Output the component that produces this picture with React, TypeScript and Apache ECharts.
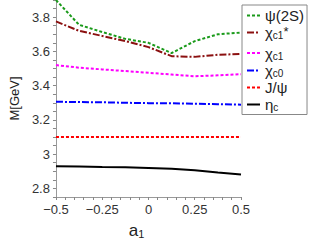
import React, { useEffect, useRef } from "react";
import * as echarts from "echarts";

const aValues = [-0.5, -0.375, -0.25, -0.125, 0, 0.125, 0.25, 0.375, 0.5];
const psi2S = [3.9, 3.755, 3.713, 3.673, 3.65, 3.59, 3.66, 3.7, 3.71];
const chic1Star = [3.775, 3.72, 3.69, 3.66, 3.625, 3.572, 3.568, 3.58, 3.585];
const chic1 = [3.52, 3.505, 3.495, 3.485, 3.475, 3.465, 3.455, 3.46, 3.467];
const chic0 = [3.306, 3.304, 3.303, 3.3, 3.298, 3.297, 3.294, 3.292, 3.289];
const jpsi = [3.1, 3.1, 3.1, 3.1, 3.1, 3.1, 3.1, 3.1, 3.1];
const etac = [2.93, 2.928, 2.925, 2.923, 2.92, 2.915, 2.906, 2.893, 2.881];

const yTickLabels = [2.8, 3, 3.2, 3.4, 3.6, 3.8];
const xTickLabels = [-0.5, -0.25, 0, 0.25, 0.5];

const FONT = "Liberation Sans, Arial, sans-serif";

const seriesDefs = [
  { key: "psi2S", label: "{m|ψ(2S)}", data: psi2S, color: "#1a9a1a", type: [3, 2] as any },
  { key: "chic1Star", label: "{m|χ}{s|c1}{p|*}", data: chic1Star, color: "#8b1010", type: [7, 2, 2, 2] as any },
  { key: "chic1", label: "{m|χ}{s|c1}", data: chic1, color: "#ff00ff", type: [3, 2] as any },
  { key: "chic0", label: "{m|χ}{s|c0}", data: chic0, color: "#0000ff", type: [7, 2, 2, 2] as any },
  { key: "jpsi", label: "{m|J/ψ}", data: jpsi, color: "#ff0000", type: [3, 2] as any },
  { key: "etac", label: "{m|η}{s|c}", data: etac, color: "#000000", type: "solid" as any },
];

export default function App() {
  const ref = useRef<HTMLDivElement>(null);
  useEffect(() => {
    if (!ref.current) return;
    const chart = echarts.init(ref.current, null, { renderer: "svg" });
    const labelMap: Record<string, string> = {};
    seriesDefs.forEach((s) => (labelMap[s.key] = s.label));
    chart.setOption({
      animation: false,
      textStyle: { fontFamily: FONT },
      axisPointer: { show: false },
      tooltip: { show: false },
      grid: { left: 42, right: 75, top: 0, bottom: 45, show: false },
      legend: {
        orient: "vertical",
        left: 242,
        top: 5,
        padding: [3, 3, 2, 4],
        itemWidth: 13,
        itemHeight: 14,
        itemGap: 1.5,
        borderColor: "#888",
        borderWidth: 1,
        itemStyle: { opacity: 0 },
        data: seriesDefs.map((s) => s.key),
        formatter: (n: string) => labelMap[n],
        textStyle: {
          fontFamily: FONT,
          fontSize: 15,
          color: "#222",
          rich: {
            m: { fontSize: 15, fontFamily: FONT, color: "#222", lineHeight: 16 },
            s: { fontSize: 10, fontFamily: FONT, color: "#222", verticalAlign: "bottom", lineHeight: 12, padding: [6, 0, 0, 0] },
            p: { fontSize: 13, fontFamily: FONT, color: "#222", verticalAlign: "top", lineHeight: 12, padding: [0, 0, 6, 0] },
          },
        },
      },
      xAxis: {
        type: "value",
        min: -0.5,
        max: 0.5,
        interval: 0.05,
        name: "{a|a}{s|1}",
        nameLocation: "middle",
        nameGap: 25,
        nameTextStyle: {
          padding: [0, 24, 0, 0],
          rich: {
            a: { fontSize: 17, fontFamily: FONT, color: "#222" },
            s: { fontSize: 11, fontFamily: FONT, color: "#222", verticalAlign: "bottom", padding: [6, 0, 0, 0] },
          },
        },
        axisPointer: { show: false },
        axisLine: { onZero: false, lineStyle: { color: "#999", width: 1 } },
        axisTick: { show: true, length: 3, lineStyle: { color: "#888" } },
        splitLine: { show: false, lineStyle: { color: "#00ffff" } },
        minorSplitLine: { show: false, lineStyle: { color: "#ff8800" } },
        splitArea: { show: false },
        axisLabel: {
          fontSize: 13,
          color: "#333",
          margin: 6,
          fontFamily: FONT,
          customValues: xTickLabels,
          formatter: (v: number) => String(v).replace("-", "\u2212"),
        },
      },
      yAxis: {
        type: "value",
        min: 2.75,
        max: 3.9,
        interval: 0.05,
        position: "left",
        name: "M[GeV]",
        nameLocation: "middle",
        nameGap: 33,
        nameTextStyle: { fontSize: 13, color: "#222", fontFamily: FONT },
        axisPointer: { show: false },
        axisLine: { show: true, onZero: false, lineStyle: { color: "#999", width: 1 } },
        axisTick: { show: true, length: 3, lineStyle: { color: "#888" } },
        splitLine: { show: false },
        minorSplitLine: { show: false },
        splitArea: { show: false },
        axisLabel: {
          fontSize: 13,
          color: "#333",
          margin: 6,
          fontFamily: FONT,
          customValues: yTickLabels,
          formatter: (v: number) => String(Math.round(v * 10) / 10),
        },
      },
      series: seriesDefs.map((s) => ({
        name: s.key,
        type: "line",
        symbol: "none",
        data: aValues.map((a, i) => [a, s.data[i]]),
        lineStyle: { color: s.color, width: 2, type: s.type },
        itemStyle: { color: s.color },
      })),
    });
    return () => chart.dispose();
  }, []);
  return <div ref={ref} style={{ width: 316, height: 244, position: "absolute", left: 0, top: 0 }} />;
}
